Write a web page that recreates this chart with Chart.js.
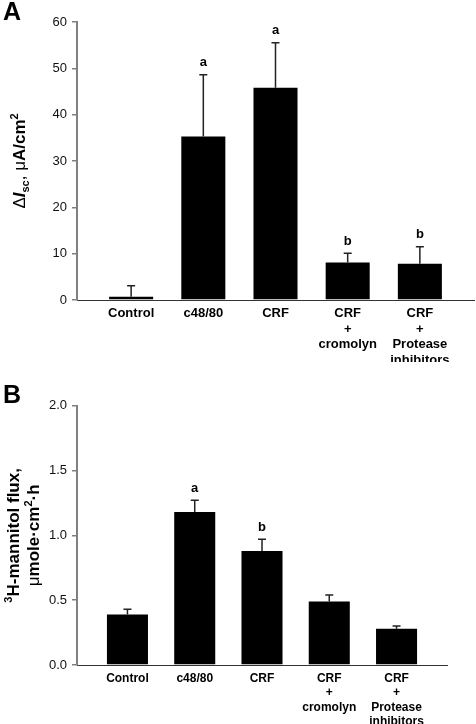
<!DOCTYPE html>
<html>
<head>
<meta charset="utf-8">
<script src="https://cdn.jsdelivr.net/npm/chart.js@4/dist/chart.umd.min.js"></script>
<style>
  body { margin: 0; background: #fff; }
  #wrap { position: relative; width: 476px; height: 724px; }
  canvas { position: absolute; left: 0; }
  #chartA { top: 0; }
  #chartB { top: 362px; }
</style>
</head>
<body>
<div id="wrap">
  <canvas id="chartA" width="476" height="362"></canvas>
  <canvas id="chartB" width="476" height="362"></canvas>
</div>
<script>
// Treatment groups (shared by both panels)
const categories = [
  ['Control'],
  ['c48/80'],
  ['CRF'],
  ['CRF', '+', 'cromolyn'],
  ['CRF', '+', 'Protease', 'inhibitors']
];

// Panel A: change in short-circuit current
const iscMeans = [0.7, 35.3, 45.8, 8.1, 7.8];
const iscErrors = [2.4, 13.3, 9.7, 2.0, 3.7];
const iscLetters = ['', 'a', 'a', 'b', 'b'];

// Panel B: mannitol flux
const fluxMeans = [0.39, 1.18, 0.88, 0.49, 0.28];
const fluxErrors = [0.04, 0.09, 0.09, 0.05, 0.02];
const fluxLetters = ['', 'a', 'b', '', ''];

const FONT = "'Liberation Sans', Arial, Helvetica, sans-serif";

/**
 * Draw a run of differently styled text pieces, rotated to read bottom-up
 */
function drawRotatedRich(ctx, cx, cy, parts) {
  ctx.save();
  ctx.translate(cx, cy);
  ctx.rotate(-Math.PI / 2);
  let total = 0;
  parts.forEach(p => {
    ctx.font = p.font;
    p.w = ctx.measureText(p.text).width;
    total += p.w;
  });
  let x = -total / 2;
  ctx.fillStyle = '#000';
  ctx.textBaseline = 'alphabetic';
  ctx.textAlign = 'left';
  parts.forEach(p => {
    ctx.font = p.font;
    ctx.fillText(p.text, x, 6 + (p.dy || 0));
    x += p.w;
  });
  ctx.restore();
}

// Error bars (upper half only) and significance letters
const extrasPlugin = {
  id: 'extras',
  afterDatasetsDraw(chart, args, opts) {
    const { ctx, scales: { x, y } } = chart;
    ctx.save();
    ctx.strokeStyle = '#222';
    ctx.lineWidth = 1.5;
    opts.means.forEach((m, i) => {
      const px = x.getPixelForValue(i);
      const yBar = y.getPixelForValue(m);
      const yTop = y.getPixelForValue(m + opts.errors[i]);
      ctx.beginPath();
      ctx.moveTo(px, yBar);
      ctx.lineTo(px, yTop);
      ctx.moveTo(px - 4, yTop);
      ctx.lineTo(px + 4, yTop);
      ctx.stroke();
      if (opts.letters[i]) {
        ctx.fillStyle = '#000';
        ctx.font = 'bold 13px ' + FONT;
        ctx.textAlign = 'center';
        ctx.textBaseline = 'middle';
        ctx.fillText(opts.letters[i], px, yTop - 12);
      }
    });
    ctx.restore();
  },
  afterDraw(chart, args, opts) {
    const { ctx, chartArea } = chart;
    ctx.save();
    ctx.fillStyle = '#000';
    ctx.font = 'bold 25px ' + FONT;
    ctx.textAlign = 'left';
    ctx.textBaseline = 'alphabetic';
    ctx.fillText(opts.panel, 3, opts.panelY);
    ctx.restore();
    const cy = (chartArea.top + chartArea.bottom) / 2;
    opts.titleLines.forEach(line => drawRotatedRich(ctx, line.x, cy, line.parts));
  }
};

function makeChart(id, means, errors, letters, yMax, yStep, yDecimals, area, labelFont, lineHeight, panel, titleLines) {
  return new Chart(document.getElementById(id).getContext('2d'), {
    type: 'bar',
    data: {
      datasets: [{
        data: means.map((v, i) => ({ x: i, y: v })),
        backgroundColor: '#000',
        borderWidth: 0,
        barPercentage: 0.61,
        categoryPercentage: 1
      }]
    },
    options: {
      responsive: false,
      animation: false,
      layout: { padding: { top: area.top, right: area.right, left: 0, bottom: 0 } },
      plugins: {
        legend: { display: false },
        tooltip: { enabled: false },
        extras: { means, errors, letters, panel, panelY: area.panelY, titleLines }
      },
      scales: {
        x: {
          type: 'linear',
          min: -0.75,
          max: 4.75,
          offset: false,
          grid: { display: false, drawTicks: false, offset: false },
          border: { color: '#333', width: 1 },
          afterBuildTicks: scale => { scale.ticks = categories.map((c, i) => ({ value: i })); },
          afterFit: scale => { scale.height = area.xHeight; },
          ticks: {
            autoSkip: false,
            maxRotation: 0,
            minRotation: 0,
            padding: 6,
            color: '#000',
            font: { family: FONT, size: labelFont, weight: 'bold', lineHeight: lineHeight + 'px' },
            callback: value => categories[value]
          }
        },
        y: {
          min: 0,
          max: yMax,
          grid: { drawOnChartArea: false, color: '#808080', lineWidth: 1.5, tickLength: 5 },
          border: { color: '#808080', width: 2 },
          afterFit: scale => { scale.width = 77; },
          ticks: {
            stepSize: yStep,
            padding: 5,
            color: '#111',
            font: { family: FONT, size: 13 },
            callback: v => v.toFixed(yDecimals)
          }
        }
      }
    },
    plugins: [extrasPlugin]
  });
}

const big = 'bold 17px ' + FONT;
const small = 'bold 11px ' + FONT;
const plain = '17px ' + FONT;

makeChart('chartA', iscMeans, iscErrors, iscLetters, 60, 10, 0,
  { top: 22, right: 2, xHeight: 62, panelY: 20 }, 13, 15.5, 'A', [
    { x: 19, parts: [
      { text: '\u0394', font: plain },
      { text: 'I', font: 'italic ' + big },
      { text: 'sc', font: small, dy: 4 },
      { text: ', ', font: plain },
      { text: '\u03bc', font: plain },
      { text: 'A/cm', font: big },
      { text: '2', font: small, dy: -7 }
    ] }
  ]);

makeChart('chartB', fluxMeans, fluxErrors, fluxLetters, 2, 0.5, 1,
  { top: 43.7, right: 29, xHeight: 59, panelY: 41 }, 12, 14.5, 'B', [
    { x: 13, parts: [
      { text: '3', font: small, dy: -7 },
      { text: 'H-mannitol flux,', font: big }
    ] },
    { x: 33, parts: [
      { text: '\u03bc', font: plain },
      { text: 'mole\u00b7cm', font: big },
      { text: '2', font: small, dy: -7 },
      { text: '\u00b7h', font: big }
    ] }
  ]);
</script>
</body>
</html>
